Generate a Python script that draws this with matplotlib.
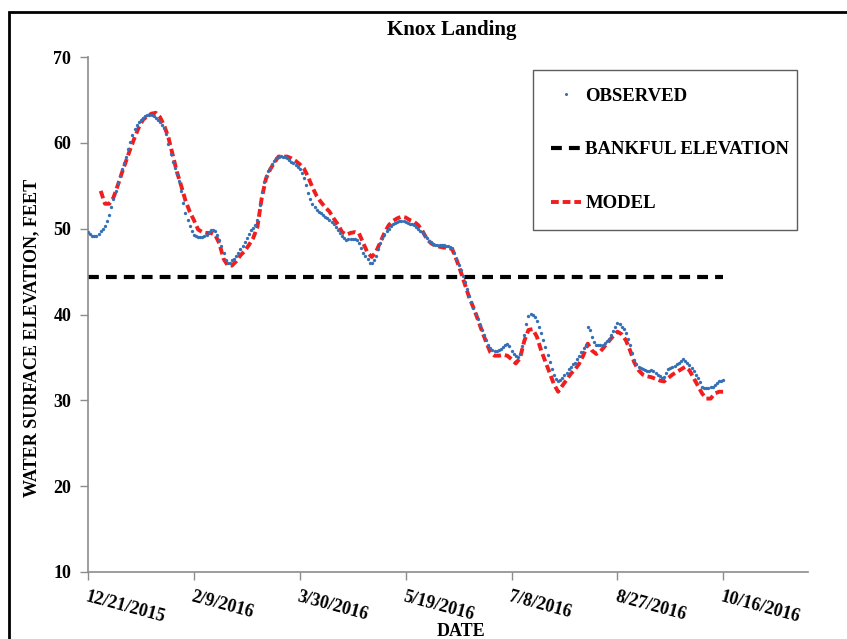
import matplotlib
matplotlib.use("Agg")
import matplotlib.pyplot as plt
from matplotlib.patches import Rectangle
from matplotlib.lines import Line2D
import pandas as pd

# ---------------- data ----------------
title = "Knox Landing"
obs_start, obs_end = "2015-12-21", "2016-10-16"     # observed, daily
model_start, model_end = "2015-12-27", "2016-10-16"  # model, every 2 days
observed = [
    49.6, 49.4, 49.2, 49.1, 49.2, 49.4, 49.7, 50.0, 50.3, 50.9,
    51.6, 52.5, 53.4, 54.4, 55.3, 56.1, 56.9, 57.7, 58.4, 59.3,
    60.1, 60.9, 61.6, 62.1, 62.4, 62.7, 62.9, 63.1, 63.2, 63.3,
    63.2, 63.1, 62.9, 62.7, 62.4, 62.1, 61.7, 61.0, 59.9, 58.7,
    57.8, 57.1, 56.4, 55.5, 54.4, 53.0, 51.8, 51.0, 50.3, 49.7,
    49.3, 49.1, 49.05, 49.0, 49.05, 49.1, 49.3, 49.6, 49.8, 49.9,
    49.7, 49.3, 48.7, 48.0, 47.2, 46.4, 46.0, 46.0, 46.3, 46.5,
    46.8, 47.2, 47.6, 48.0, 48.4, 48.9, 49.4, 49.8, 50.1, 50.4,
    51.0, 52.8, 54.3, 55.4, 56.1, 56.7, 57.1, 57.5, 57.9, 58.2,
    58.4, 58.5, 58.4, 58.3, 58.2, 58.0, 57.8, 57.6, 57.4, 57.2,
    56.9, 56.5, 55.9, 55.1, 54.2, 53.4, 52.9, 52.5, 52.2, 52.0,
    51.8, 51.6, 51.4, 51.2, 51.0, 50.8, 50.5, 50.2, 49.9, 49.5,
    49.2, 48.9, 48.7, 48.8, 48.8, 48.8, 48.8, 48.7, 48.3, 47.7,
    47.2, 46.8, 46.5, 46.0, 46.0, 46.3, 46.8, 47.6, 48.3, 48.9,
    49.3, 49.7, 50.0, 50.3, 50.5, 50.7, 50.8, 50.9, 50.9, 50.9,
    50.8, 50.7, 50.6, 50.5, 50.4, 50.2, 50.0, 49.7, 49.45, 49.2,
    48.9, 48.6, 48.4, 48.2, 48.1, 48.1, 48.1, 48.1, 48.1, 48.0,
    48.0, 47.9, 47.7, 47.2, 46.5, 45.8, 45.2, 44.5, 43.8, 43.0,
    42.1, 41.4, 40.8, 40.1, 39.5, 38.8, 38.2, 37.6, 37.0, 36.5,
    36.1, 35.9, 35.8, 35.8, 35.9, 36.0, 36.2, 36.4, 36.6, 36.3,
    35.8, 35.4, 35.2, 35.1, 35.4, 36.3, 37.6, 38.9, 39.8, 40.1,
    40.0, 39.7, 39.3, 38.6, 37.8, 37.0, 36.2, 35.3, 34.5, 33.7,
    33.0, 32.5, 32.3, 32.4, 32.6, 32.9, 33.2, 33.6, 33.9, 34.2,
    34.4, 34.8, 35.2, 35.6, 36.1, 36.5, 38.6, 38.2, 37.4, 36.8,
    36.5, 36.4, 36.4, 36.5, 36.7, 36.9, 37.2, 37.6, 38.1, 38.6,
    39.0, 38.9, 38.6, 38.3, 37.9, 37.2, 36.4, 35.5, 34.7, 34.2,
    33.9, 33.8, 33.7, 33.5, 33.4, 33.4, 33.5, 33.4, 33.2, 33.0,
    32.8, 32.6, 32.7, 33.2, 33.7, 33.8, 33.9, 34.0, 34.2, 34.4,
    34.6, 34.8, 34.6, 34.4, 34.1, 33.8, 33.4, 33.0, 32.6, 32.1,
    31.6, 31.4, 31.4, 31.4, 31.5, 31.6, 31.8, 32.0, 32.2, 32.3,
    32.4,
]
model = [
    54.4, 52.9, 52.9, 53.6, 55.0, 56.5, 57.9, 59.3, 60.6, 61.8,
    62.7, 63.1, 63.4, 63.5, 63.0, 62.0, 60.6, 58.6, 56.6, 55.0,
    53.3, 52.0, 51.0, 49.9, 49.6, 49.5, 49.5, 49.3, 48.3, 46.5,
    45.7, 45.7, 46.2, 46.9, 47.4, 48.1, 48.9, 50.2, 53.5, 55.8,
    56.9, 57.7, 58.4, 58.4, 58.4, 58.2, 57.9, 57.5, 57.0, 56.0,
    54.8, 53.8, 53.1, 52.5, 52.0, 51.2, 50.5, 49.6, 49.3, 49.5,
    49.6, 49.45, 48.3, 47.2, 46.7, 47.3, 48.4, 49.5, 50.4, 50.9,
    51.2, 51.4, 51.3, 51.0, 50.8, 50.4, 49.7, 48.8, 48.3, 48.0,
    47.9, 47.8, 47.8, 47.6, 46.4, 45.0, 43.5, 42.0, 40.8, 39.5,
    38.1, 36.8, 35.6, 35.2, 35.2, 35.3, 35.2, 34.8, 34.3, 34.9,
    36.9, 38.2, 38.3, 37.4, 35.8, 34.5, 33.2, 31.9, 31.0, 31.7,
    32.4, 33.1, 33.6, 34.3, 35.3, 36.6, 35.8, 35.4, 35.7, 36.3,
    36.9, 37.5, 38.0, 37.7, 37.0, 35.8, 34.4, 33.5, 33.0, 32.8,
    32.7, 32.5, 32.3, 32.2, 32.6, 33.0, 33.3, 33.6, 33.9, 33.5,
    32.6, 31.7, 30.8, 30.2, 30.2, 30.8, 31.0, 31.0,
]
bankful_dates = ["2015-12-21", "2016-10-16"]
bankful_value = 44.4
tick_dates = ["2015-12-21", "2016-02-09", "2016-03-30", "2016-05-19",
              "2016-07-08", "2016-08-27", "2016-10-16"]
tick_labels = ["12/21/2015", "2/9/2016", "3/30/2016", "5/19/2016",
               "7/8/2016", "8/27/2016", "10/16/2016"]
x_min, x_max = "2015-12-21", "2016-11-25"
y_ticks = [10, 20, 30, 40, 50, 60, 70]
labels = ["OBSERVED", "BANKFUL ELEVATION", "MODEL"]

obs_dates = pd.date_range(obs_start, obs_end, freq="D")
mod_dates = pd.date_range(model_start, model_end, freq="2D")

# ---------------- style ----------------
plt.rcParams["font.family"] = ["Liberation Serif", "DejaVu Serif"]
plt.rcParams["font.weight"] = "bold"
BLUE = "#3470B6"
RED = "#F01E1E"
GRAY = "#8C8C8C"

fig = plt.figure(figsize=(8.47, 6.39), dpi=100)
ax = fig.add_axes([88 / 847, 1 - 572 / 639, 720 / 847, 515 / 639])

ax.plot(pd.to_datetime(bankful_dates), [bankful_value] * 2, color="black",
        lw=3.0, dashes=(2.6, 1.7), zorder=2)
ax.plot(mod_dates, model, color=RED, lw=2.8, dashes=(2.0, 1.0), zorder=3)
ax.plot(obs_dates, observed, linestyle="none", marker="o", ms=2.4,
        mfc=BLUE, mec=BLUE, mew=0, zorder=4)

ax.set_xlim(pd.Timestamp(x_min), pd.Timestamp(x_max))
ax.set_ylim(10, 70)
ax.set_yticks(y_ticks)
ax.set_xticks(pd.to_datetime(tick_dates))
ax.set_xticklabels(tick_labels, rotation=-15, ha="left", va="top",
                   rotation_mode="anchor")

for s in ["top", "right"]:
    ax.spines[s].set_visible(False)
for s in ["left", "bottom"]:
    ax.spines[s].set_color(GRAY)
    ax.spines[s].set_linewidth(1.2)
ax.tick_params(axis="both", direction="out", length=6, width=1, color=GRAY,
               labelsize=13)
ax.tick_params(axis="y", pad=6)
ax.tick_params(axis="x", pad=6)
for lab in ax.get_xticklabels() + ax.get_yticklabels():
    lab.set_fontweight("bold")

fig.text(452 / 847, 1 - 30 / 639, title, ha="center", va="center",
         fontsize=15, fontweight="bold")
fig.text(32 / 847, 1 - 338 / 639, "WATER SURFACE ELEVATION, FEET",
         rotation=90, ha="center", va="center", fontsize=13, fontweight="bold")
fig.text(461 / 847, 1 - 631 / 639, "DATE", ha="center", va="center",
         fontsize=13, fontweight="bold")

handles = [
    Line2D([], [], linestyle="none", marker="o", ms=2.2, mfc=BLUE, mec=BLUE, mew=0),
    Line2D([], [], color="black", lw=3.0, dashes=(2.6, 1.7)),
    Line2D([], [], color=RED, lw=2.8, dashes=(2.0, 1.0)),
]
leg = ax.legend(handles, labels, loc="upper left",
                bbox_to_anchor=(0.618, 0.975, 0.367, 0.0), mode="expand",
                frameon=True, fancybox=False, labelspacing=1.95,
                borderpad=0.95, handlelength=1.6, handletextpad=0.25,
                borderaxespad=0, prop={"weight": "bold", "size": 13.5})
leg.get_frame().set_edgecolor("#333333")
leg.get_frame().set_linewidth(1.0)

fig.add_artist(Rectangle((9 / 847, -0.05), 1.0, 1 - 12 / 639 + 0.05,
                         transform=fig.transFigure, fill=False, lw=2,
                         ec="black"))

fig.savefig("out.png", dpi=100)
